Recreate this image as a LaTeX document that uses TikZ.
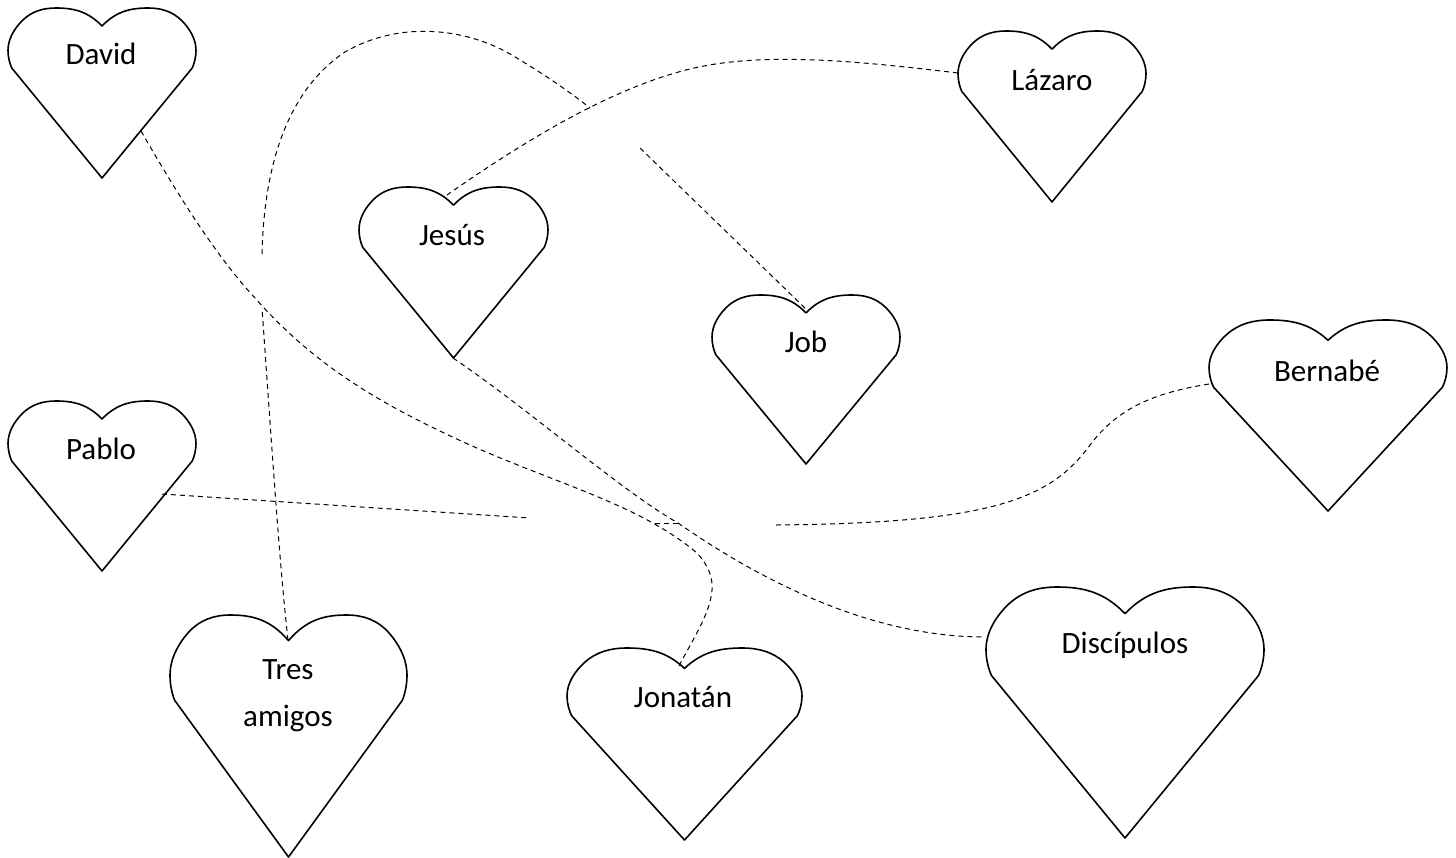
\documentclass[tikz,border=0pt]{standalone}
\usepackage{fontspec}
\setmainfont{Carlito}
\tikzset{
  heartline/.style={draw=black,line width=1.6pt,line join=round},
  link/.style={draw=black,line width=1pt,dash pattern=on 5pt off 4pt},
  label/.style={inner sep=0pt,font=\fontsize{31}{37}\selectfont,text=black}
}
% name, left, top, right, bottom
\newcommand{\heartat}[5]{%
  \pgfmathsetmacro{\hcx}{(#2+#4)/2}%
  \pgfmathsetmacro{\hhw}{(#4-#2)/2}%
  \pgfmathsetmacro{\hh}{#5-#3}%
  \begin{scope}[shift={(\hcx,#3)},x=\hhw pt,y=-\hh pt]
    \path[heartline] (0,.106)
      .. controls (.15,.02) and (.3,0) .. (.49,0)
      .. controls (.63,0) and (.75,.02) .. (.85,.075)
      .. controls (.93,.12) and (1,.18) .. (1,.25)
      .. controls (1,.29) and (.98,.33) .. (.96,.353)
      -- (0,1) -- (-.96,.353)
      .. controls (-.98,.33) and (-1,.29) .. (-1,.25)
      .. controls (-1,.18) and (-.93,.12) .. (-.85,.075)
      .. controls (-.75,.02) and (-.63,0) .. (-.49,0)
      .. controls (-.3,0) and (-.15,.02) .. (0,.106) -- cycle;
  \end{scope}}
\begin{document}
\begin{tikzpicture}[x=1pt,y=-1pt]
\useasboundingbox (0,0) rectangle (1456,857);
\heartat{david}{8}{8}{196}{178}
\heartat{lazaro}{958}{31}{1146}{202}
\heartat{jesus}{359}{187}{548}{358}
\heartat{job}{712}{295}{900}{464}
\heartat{bernabe}{1209}{320}{1447}{511}
\heartat{pablo}{8}{401}{196}{571}
\heartat{tres}{170}{615}{407}{857}
\heartat{jonatan}{567}{648}{802}{840}
\heartat{discipulos}{986}{587}{1264}{838}
\node[label] (david) at (101,54) {David};
\node[label] (lazaro) at (1052,80) {Lázaro};
\node[label] (jesus) at (452,235) {Jesús};
\node[label] (job) at (806,342) {Job};
\node[label] (bernabe) at (1327,371) {Bernabé};
\node[label] (pablo) at (101,449) {Pablo};
\node[label] (tres) at (288,670) {Tres};
\node[label] (amigos) at (288,718) {amigos};
\node[label] (jonatan) at (683,697) {Jonatán};
\node[label] (discipulos) at (1125,645) {Discípulos};
\coordinate (davidE) at (141,131);
\coordinate (jonatanN) at (678,668);
\coordinate (arcA) at (262,254);
\coordinate (arcB) at (590,108);
\coordinate (jobA) at (640,148);
\coordinate (jobN) at (808,311);
\coordinate (lazaroW) at (958,73);
\coordinate (jesusN) at (447,195);
\coordinate (jesusS) at (453,358);
\coordinate (discW) at (985,637);
\coordinate (crossA) at (655,523);
\coordinate (crossB) at (678,523);
\coordinate (pabloE) at (162,494);
\coordinate (pabloF) at (530,518);
\coordinate (tresN) at (288,640);
\coordinate (tresF) at (262,308);
\coordinate (bernW) at (1209,384);
\coordinate (bernF) at (776,525);
\path[link] (davidE) .. controls (175,190) and (215,255) .. (255,298)
  .. controls (310,360) and (370,400) .. (470,445)
  .. controls (560,485) and (640,505) .. (697,553)
  .. controls (708,565) and (713,577) .. (712,590)
  .. controls (710,615) and (692,640) .. (jonatanN);
\path[link] (arcA) .. controls (264,170) and (285,92) .. (345,52)
  .. controls (400,20) and (470,27) .. (520,60)
  .. controls (545,75) and (570,92) .. (arcB);
\path[link] (jobA) -- (jobN);
\path[link] (lazaroW) .. controls (850,60) and (760,52) .. (690,69)
  .. controls (620,86) and (540,130) .. (jesusN);
\path[link] (jesusS) .. controls (530,410) and (620,490) .. (crossB)
  .. controls (760,580) and (870,637) .. (discW);
\path[link] (crossA) -- (crossB);
\path[link] (pabloE) -- (pabloF);
\path[link] (tresN) .. controls (280,570) and (272,450) .. (tresF);
\path[link] (bernW) .. controls (1160,392) and (1120,405) .. (1090,445)
  .. controls (1050,500) and (990,523) .. (bernF);
\end{tikzpicture}
\end{document}
